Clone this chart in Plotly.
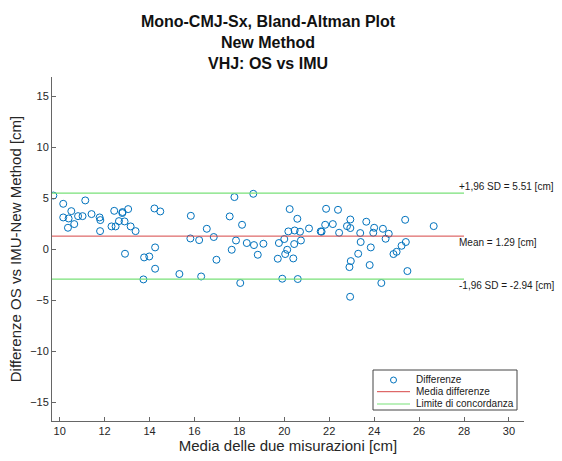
import plotly.graph_objects as go

# Data
mean_vals = [9.72, 10.16, 10.16, 10.40, 10.52, 10.37, 10.65, 10.82, 11.02, 11.14, 11.42, 11.78, 11.81, 11.80,
             12.31, 12.49, 12.43, 12.64, 12.79, 12.80, 12.89, 13.05, 13.16, 13.38, 12.91, 13.76, 13.99, 14.25,
             14.25, 13.73, 14.22, 14.48, 15.33, 15.84, 15.82, 16.21, 16.30, 16.55,
             16.86, 16.98, 17.57, 17.66, 17.78, 17.85, 18.12, 18.04, 18.33, 18.62, 18.65, 18.82, 19.07, 19.71,
             19.76, 19.91, 20.04, 20.00, 20.13, 20.18, 20.24, 20.40, 20.44, 20.46, 20.58, 20.60, 20.70, 20.74,
             21.10, 21.62, 21.66, 21.82, 21.86, 22.16, 22.39, 22.44, 22.79, 22.94, 22.94, 23.38, 23.40, 23.29,
             22.96, 22.90, 22.93, 23.65, 23.85, 23.80,
             24.00, 23.96, 24.39, 24.65, 24.51, 24.32, 25.38, 25.41, 25.22, 25.00, 24.86, 25.48, 26.65]
diff_vals = [5.27, 4.46, 3.12, 3.02, 3.74, 2.11, 2.47, 3.25, 3.25, 4.79, 3.45, 3.12, 2.86, 1.78,
             2.24, 2.24, 3.77, 2.76, 3.55, 3.65, 2.73, 3.94, 2.24, 1.78, -0.44, -0.80, -0.71, 0.18,
             -1.91, -2.96, 4.00, 3.71, -2.43, 3.28, 1.06, 0.90, -2.67, 2.01,
             1.20, -1.03, 3.22, -0.05, 5.12, 0.86, 2.40, -3.31, 0.61, 5.44, 0.41, -0.54, 0.54, -0.93,
             0.61, -2.89, -0.47, 1.00, -0.05, 1.75, 3.94, -0.90, 0.51, 1.84, 2.99, -2.92, 1.72, 0.86,
             2.04, 1.75, 1.72, 2.40, 3.97, 2.47, 3.87, 1.62, 2.27, 2.92, 2.08, 1.59, 0.71, -0.44,
             -1.16, -1.75, -4.66, 2.70, 0.18, -1.55,
             2.11, 1.62, 2.01, 1.52, 1.03, -3.31, 2.89, 0.71, 0.34, -0.25, -0.47, -2.14, 2.27]

mean_diff = 1.29
upper_loa = 5.51
lower_loa = -2.94

legend_labels = ["Differenze", "Media differenze", "Limite di concordanza"]

x_range = [9.66, 30.67]
y_range = [-16.85, 16.9]
line_x_end = 28
x_ticks = [10, 12, 14, 16, 18, 20, 22, 24, 26, 28, 30]
y_ticks = [-15, -10, -5, 0, 5, 10, 15]

FONT = "Arial, Liberation Sans, Helvetica, sans-serif"
W, H = 562, 461
ML, MR, MT, MB = 52, 38, 77, 40
PW, PH = W - ML - MR, H - MT - MB

BLUE = "#0072BD"
RED = "rgb(215,70,70)"
GREEN = "rgb(120,225,120)"


def px(x):
    return (x - ML) / PW


def py(y):
    return (H - MB - y) / PH


line_x = [x_range[0], line_x_end]

fig = go.Figure()
fig.add_trace(go.Scatter(
    x=mean_vals, y=diff_vals, mode="markers", name=legend_labels[0], showlegend=False,
    marker=dict(symbol="circle-open", size=7, color=BLUE, line=dict(width=1, color=BLUE)),
))
fig.add_trace(go.Scatter(
    x=line_x, y=[mean_diff, mean_diff], mode="lines", name=legend_labels[1], showlegend=False,
    line=dict(color=RED, width=1),
))
fig.add_trace(go.Scatter(
    x=line_x, y=[upper_loa, upper_loa], mode="lines", name=legend_labels[2], showlegend=False,
    line=dict(color=GREEN, width=1.2),
))
fig.add_trace(go.Scatter(
    x=line_x, y=[lower_loa, lower_loa], mode="lines", showlegend=False,
    line=dict(color=GREEN, width=1.2),
))

ann_x = 27.68
anns = [
    ("+1,96 SD = %.2f [cm]" % upper_loa, upper_loa + 0.62),
    ("Mean = %.2f [cm]" % mean_diff, mean_diff - 0.62),
    ("-1,96 SD = %.2f [cm]" % lower_loa, lower_loa - 0.62),
]
for txt, yy in anns:
    fig.add_annotation(x=ann_x, y=yy, text=txt, showarrow=False, xanchor="left", yanchor="middle",
                       font=dict(family=FONT, size=10, color="#1a1a1a"))

# Legend box (drawn manually to match the compact MATLAB-style legend)
shapes = [
    dict(type="rect", xref="paper", yref="paper", x0=px(373), x1=px(517), y0=py(410), y1=py(370),
         line=dict(color="#444", width=1), fillcolor="white", layer="above"),
    dict(type="line", xref="paper", yref="paper", x0=px(377), x1=px(410), y0=py(391.7), y1=py(391.7),
         line=dict(color=RED, width=1)),
    dict(type="line", xref="paper", yref="paper", x0=px(377), x1=px(410), y0=py(404), y1=py(404),
         line=dict(color=GREEN, width=1.2)),
    dict(type="circle", xref="paper", yref="paper", xsizemode="pixel", ysizemode="pixel",
         xanchor=px(393.5), yanchor=py(380), x0=-3, x1=3, y0=-3, y1=3,
         line=dict(color=BLUE, width=1)),
]
for lbl, yy in zip(legend_labels, [379.8, 391.8, 403.8]):
    fig.add_annotation(xref="paper", yref="paper", x=px(414), y=py(yy), text=lbl, showarrow=False,
                       xanchor="left", yanchor="middle", font=dict(family=FONT, size=10, color="#1a1a1a"))

fig.update_layout(
    width=W, height=H,
    margin=dict(l=ML, r=MR, t=MT, b=MB, autoexpand=False),
    paper_bgcolor="white", plot_bgcolor="white",
    font=dict(family=FONT, color="#262626"),
    shapes=shapes,
    title=dict(
        text="<b>Mono-CMJ-Sx, Bland-Altman Plot</b><br><b>New Method</b><br><b>VHJ: OS vs IMU</b>",
        x=268 / W, xref="container", xanchor="center",
        y=1 - 27 / H, yref="container", yanchor="top",
        font=dict(family=FONT, size=16, color="#111"),
    ),
    xaxis=dict(
        range=x_range, tickvals=x_ticks, showgrid=False, zeroline=False,
        showline=True, linecolor="#666", linewidth=1, mirror=False,
        ticks="inside", ticklen=4, tickcolor="#666",
        tickfont=dict(family=FONT, size=11, color="#262626"),
        title=dict(text="Media delle due misurazioni [cm]", font=dict(family=FONT, size=15, color="#262626"), standoff=4),
        automargin=False,
    ),
    yaxis=dict(
        range=y_range, tickvals=y_ticks, showgrid=False, zeroline=False,
        showline=True, linecolor="#666", linewidth=1, mirror=False,
        ticks="inside", ticklen=4, tickcolor="#666",
        tickfont=dict(family=FONT, size=11, color="#262626"),
        title=dict(text="Differenze OS vs IMU-New Method [cm]", font=dict(family=FONT, size=15, color="#262626"), standoff=4),
        automargin=False,
    ),
    showlegend=False,
)

fig.write_html("out.html")
